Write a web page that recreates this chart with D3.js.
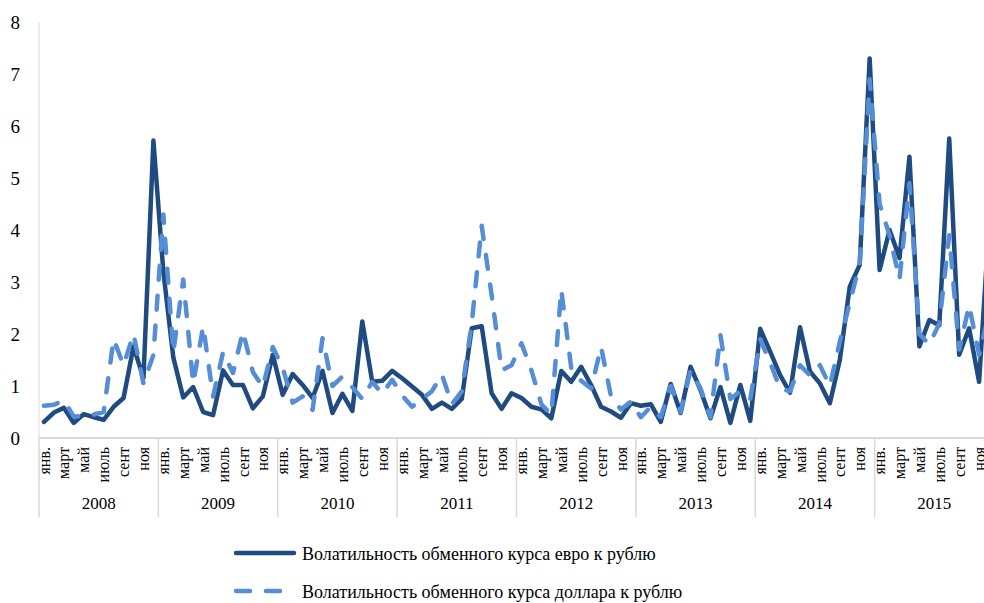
<!DOCTYPE html>
<html>
<head>
<meta charset="utf-8">
<script src="https://cdn.jsdelivr.net/npm/d3@7"></script>
<style>
  body { margin: 0; background: #fff; }
  svg { font-family: "Liberation Serif", "Times New Roman", serif; }
</style>
</head>
<body>
<script>
// data, Jan 2008 .. Dec 2015
var years = ['2008', '2009', '2010', '2011', '2012', '2013', '2014', '2015'];
var monthNames = ['янв.', '', 'март', '', 'май', '', 'июль', '', 'сент', '', 'ноя', ''];
var yTicks = [0, 1, 2, 3, 4, 5, 6, 7, 8];

var euro = [
  0.31, 0.49, 0.58, 0.29, 0.46, 0.40, 0.35, 0.60, 0.77, 1.76, 1.15, 5.72,
  3.20, 1.55, 0.78, 0.98, 0.50, 0.44, 1.30, 1.02, 1.02, 0.57, 0.80, 1.60,
  0.83, 1.23, 1.02, 0.77, 1.29, 0.48, 0.85, 0.52, 2.24, 1.08, 1.10, 1.29,
  1.15, 0.99, 0.83, 0.56, 0.68, 0.56, 0.75, 2.11, 2.15, 0.86, 0.56, 0.86,
  0.77, 0.60, 0.55, 0.38, 1.29, 1.08, 1.37, 1.02, 0.60, 0.51, 0.39, 0.67,
  0.62, 0.65, 0.31, 1.04, 0.48, 1.37, 0.92, 0.38, 0.98, 0.29, 1.02, 0.33,
  2.10, 1.66, 1.21, 0.87, 2.13, 1.28, 1.05, 0.67, 1.50, 2.91, 3.33, 7.30,
  3.23, 4.00, 3.46, 5.41, 1.76, 2.27, 2.17, 5.76, 1.60, 2.11, 1.08, 4.10
];
var dollar = [
  0.62, 0.64, 0.72, 0.41, 0.43, 0.45, 0.50, 1.90, 1.40, 2.00, 1.05, 1.60,
  4.30, 1.65, 3.05, 1.05, 2.15, 0.80, 1.65, 1.25, 2.05, 1.27, 0.98, 1.75,
  1.35, 0.68, 0.80, 0.54, 1.92, 1.00, 1.18, 0.98, 0.75, 1.08, 0.85, 1.12,
  0.82, 0.60, 0.75, 0.90, 1.22, 0.65, 0.90, 2.20, 4.08, 2.75, 1.30, 1.40,
  1.82, 1.30, 0.65, 0.45, 2.85, 1.35, 1.10, 0.95, 1.75, 0.80, 0.55, 0.70,
  0.40, 0.60, 0.40, 1.00, 0.50, 1.30, 0.95, 0.40, 1.98, 0.75, 0.90, 0.75,
  1.90, 1.45, 0.95, 0.90, 1.40, 1.20, 1.40, 1.00, 1.85, 2.60, 3.35, 6.90,
  4.50, 3.90, 3.05, 4.90, 2.00, 1.80, 2.20, 3.90, 1.70, 2.55, 1.60, 2.40
];
var seriesNames = ['Волатильность обменного курса евро к рублю',
                   'Волатильность обменного курса доллара к рублю'];

var W = 984, H = 603;
var plotL = 39, plotR = 994, plotT = 22, plotB = 438;

var svg = d3.select('body').append('svg')
  .attr('width', W).attr('height', H);

var x = d3.scaleBand()
  .domain(d3.range(euro.length))
  .range([plotL, plotR]);
var y = d3.scaleLinear().domain([0, 8]).range([plotB, plotT]);

var cx = function(i){ return x(i) + x.bandwidth() / 2; };

// y axis
svg.append('line')
  .attr('x1', plotL).attr('x2', plotL)
  .attr('y1', plotT).attr('y2', plotB)
  .style('stroke', '#ebe7dc').style('stroke-width', 1.5);

svg.selectAll('.ytick')
  .data(yTicks)
  .enter().append('text')
  .attr('x', 20)
  .attr('y', function(d){ return y(d); })
  .attr('dy', '0.35em')
  .attr('text-anchor', 'end')
  .style('font-size', '19px')
  .text(function(d){ return d; });

// x axis: month labels and year groups
svg.append('line')
  .attr('x1', plotL).attr('x2', W)
  .attr('y1', plotB).attr('y2', plotB)
  .style('stroke', '#d9d9d9').style('stroke-width', 2);

var yearW = x.step() * 12;
svg.selectAll('.ysep')
  .data(d3.range(years.length + 1))
  .enter().append('line')
  .attr('x1', function(d){ return plotL + d * yearW; })
  .attr('x2', function(d){ return plotL + d * yearW; })
  .attr('y1', plotB).attr('y2', 517)
  .style('stroke', '#d9d9d9').style('stroke-width', 1.5);

svg.selectAll('.year')
  .data(years)
  .enter().append('text')
  .attr('x', function(d, i){ return plotL + (i + 0.5) * yearW; })
  .attr('y', 509)
  .attr('text-anchor', 'middle')
  .style('font-size', '17px')
  .text(function(d){ return d; });

var monthIdx = d3.range(euro.length).filter(function(i){ return monthNames[i % 12] !== ''; });
svg.selectAll('.month')
  .data(monthIdx)
  .enter().append('text')
  .attr('transform', function(i){ return 'translate(' + cx(i) + ',447) rotate(-90)'; })
  .attr('dy', '0.35em')
  .attr('text-anchor', 'end')
  .style('font-size', '16px')
  .text(function(i){ return monthNames[i % 12]; });

// lines
var line = d3.line()
  .x(function(d, i){ return cx(i); })
  .y(function(d){ return y(d); });

svg.append('path')
  .datum(euro)
  .attr('d', line)
  .style('fill', 'none')
  .style('stroke', '#1f4b80')
  .style('stroke-width', 4.5)
  .style('stroke-linejoin', 'round')
  .style('stroke-linecap', 'round');

svg.append('path')
  .datum(dollar)
  .attr('d', line)
  .style('fill', 'none')
  .style('stroke', '#558ed6')
  .style('stroke-width', 4.5)
  .style('stroke-dasharray', '14,16')
  .style('stroke-linejoin', 'round')
  .style('stroke-linecap', 'round');

// legend
var legend = svg.append('g');
legend.append('line')
  .attr('x1', 236).attr('x2', 294).attr('y1', 553).attr('y2', 553)
  .style('stroke', '#1f4b80').style('stroke-width', 4.5).style('stroke-linecap', 'round');
legend.append('line')
  .attr('x1', 236).attr('x2', 294).attr('y1', 591).attr('y2', 591)
  .style('stroke', '#558ed6').style('stroke-width', 4.5)
  .style('stroke-dasharray', '14,16').style('stroke-linecap', 'round');
legend.selectAll('text')
  .data(seriesNames)
  .enter().append('text')
  .attr('x', 302)
  .attr('y', function(d, i){ return 560 + i * 38; })
  .style('font-size', '18px')
  .text(function(d){ return d; });
</script>
</body>
</html>
